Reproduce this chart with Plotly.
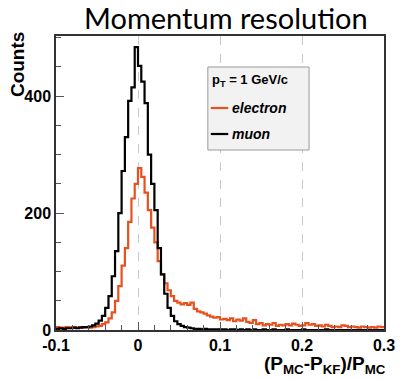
import numpy as np
import plotly.graph_objects as go

# ---- data (bin width 0.004 from -0.1 to 0.3) ----
bin_lo = -0.1
bin_w = 0.004
muon = [2, 3, 2, 3, 3, 4, 3, 4, 5, 5,
        6, 8, 11, 16, 24, 38, 58, 92, 135, 200,
        272, 330, 392, 415, 484, 452, 425, 388, 300, 250,
        205, 140, 95, 62, 38, 24, 15, 10, 7, 5,
        4, 3, 2, 2, 1, 2, 1, 1, 1, 1,
        1, 1, 0, 1, 1, 0, 1, 0, 1, 0,
        1, 0, 0, 1, 0, 0, 1, 0, 0, 0,
        1, 0, 0, 0, 0, 1, 0, 0, 0, 0,
        0, 0, 1, 0, 0, 0, 0, 0, 0, 0,
        0, 0, 0, 0, 0, 0, 0, 0, 0, 0]
electron = [5, 4, 4, 5, 4, 5, 4, 5, 4, 5,
            4, 5, 6, 7, 10, 13, 20, 30, 50, 75,
            110, 140, 185, 225, 250, 277, 262, 235, 205, 175,
            150, 118, 95, 80, 68, 58, 50, 47, 44, 46,
            43, 47, 36, 32, 30, 28, 25, 23, 21, 22,
            18, 19, 17, 20, 15, 18, 16, 20, 14, 12,
            17, 10, 12, 8, 10, 9, 12, 7, 9, 8,
            10, 8, 11, 9, 7, 8, 12, 9, 10, 7,
            8, 6, 9, 7, 5, 6, 5, 8, 7, 5,
            6, 5, 4, 6, 5, 4, 5, 4, 6, 5]
series_names = ["electron", "muon"]
series_colors = ["#e8501e", "black"]
legend_header = "p<sub>T</sub> = 1 GeV/c"
x_ticks = [-0.1, 0, 0.1, 0.2, 0.3]
x_tick_labels = ["-0.1", "0", "0.1", "0.2", "0.3"]
y_ticks = [0, 200, 400]

W, H = 407, 380
ML, MR, MT, MB = 56, 14, 36, 50
pw, ph = W - ML - MR, H - MT - MB
def px2paper(px, py):
    return (px - ML) / pw, (H - MB - py) / ph

def steps(vals):
    edges = bin_lo + bin_w * np.arange(len(vals) + 1)
    ys = list(vals) + [vals[-1]]
    return edges, ys

fig = go.Figure()
for vals, name, col in zip([electron, muon], series_names, series_colors):
    sx, sy = steps(vals)
    fig.add_trace(go.Scatter(x=sx, y=sy, mode="lines", line=dict(color=col, width=2.2, shape="hv"),
                             name=name, showlegend=False))

tickfont = dict(family="Liberation Sans", size=16, color="black", weight="bold")
annotations = []
shapes = []

tx, ty = px2paper(231, 18)
annotations.append(dict(text="Momentum resolution", x=tx, y=ty, xanchor="center", yanchor="middle",
                        font=dict(family="Lato", size=29, color="black")))
cx, cy = px2paper(16, 65)
annotations.append(dict(text="<b>Counts</b>", x=cx, y=cy, xanchor="center", yanchor="middle", textangle=-90,
                        font=dict(family="Liberation Sans", size=19, color="black")))
xx, xy = px2paper(397, 365)
annotations.append(dict(text="<b>(P<sub>MC</sub>-P<sub>KF</sub>)/P<sub>MC</sub></b>", x=xx, y=xy,
                        xanchor="right", yanchor="middle",
                        font=dict(family="Liberation Sans", size=19, color="black")))

# manual legend box
bx0, by0 = px2paper(212, 150)
bx1, by1 = px2paper(316, 67)
shapes.append(dict(type="rect", xref="paper", yref="paper", x0=bx0, y0=by0, x1=bx1, y1=by1,
                   fillcolor="#f2f2f2", line=dict(color="#9a9a9a", width=1), layer="above"))
hx, hy = px2paper(214, 81)
annotations.append(dict(text="<b>" + legend_header + "</b>", x=hx, y=hy, xanchor="left", yanchor="middle",
                        font=dict(family="Liberation Sans", size=13, color="black")))
for i, (name, col) in enumerate(zip(series_names, series_colors)):
    ly = 108 + i * 26
    lx0, lyy = px2paper(215, ly)
    lx1, _ = px2paper(233, ly)
    shapes.append(dict(type="line", xref="paper", yref="paper", x0=lx0, x1=lx1, y0=lyy, y1=lyy,
                       line=dict(color=col, width=2.2), layer="above"))
    ax_, ay_ = px2paper(235, ly)
    annotations.append(dict(text="<b><i>" + name + "</i></b>", x=ax_, y=ay_, xanchor="left", yanchor="middle",
                            font=dict(family="Liberation Sans", size=14, color="black")))

for a in annotations:
    a.update(xref="paper", yref="paper", showarrow=False)

fig.update_layout(
    width=W, height=H,
    margin=dict(l=ML, r=MR, t=MT, b=MB),
    paper_bgcolor="white", plot_bgcolor="white",
    showlegend=False,
    xaxis=dict(
        range=[-0.1, 0.3], tickvals=x_ticks, ticktext=x_tick_labels,
        ticks="inside", ticklen=8, tickcolor="#555", tickfont=tickfont,
        showline=True, linecolor="#333", linewidth=1.5, mirror=True,
        showgrid=True, gridcolor="#c8c8c8", griddash="dash", gridwidth=1,
        zeroline=False,
        minor=dict(dtick=0.02, tick0=-0.1, ticks="inside", ticklen=5, tickcolor="#555", showgrid=False),
    ),
    yaxis=dict(
        range=[0, 503], tickvals=y_ticks,
        ticks="inside", ticklen=8, tickcolor="#555", tickfont=tickfont,
        showline=True, linecolor="#333", linewidth=1.5, mirror=True,
        showgrid=False, zeroline=False,
        minor=dict(dtick=50, tick0=0, ticks="inside", ticklen=5, tickcolor="#555"),
    ),
    annotations=annotations,
    shapes=shapes,
)
fig.write_html("out.html")
